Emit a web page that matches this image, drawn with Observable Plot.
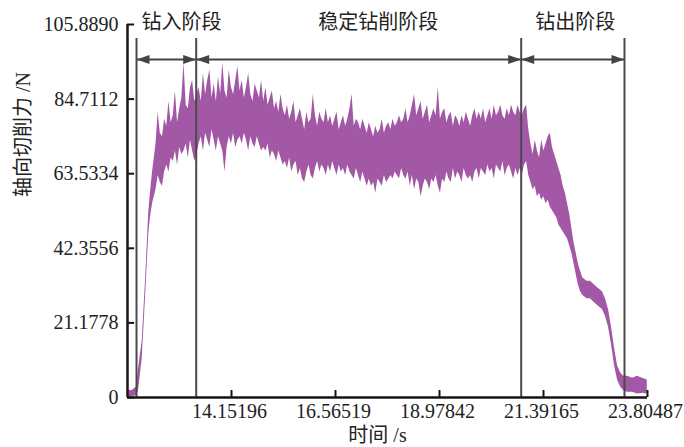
<!DOCTYPE html>
<html><head><meta charset="utf-8">
<script src="https://cdn.jsdelivr.net/npm/d3@7"></script>
<script src="https://cdn.jsdelivr.net/npm/@observablehq/plot@0.6"></script>
<style>body{margin:0;background:#fff}</style>
</head><body><div id="chart"></div>
<script>
// time (s), upper and lower envelope of the axial cutting force (N)
const time = [11.739,11.850,11.948,11.994,12.080,12.160,12.230,12.270,12.320,12.360,
12.40,12.45,12.50,12.55,12.60,12.65,12.70,12.75,12.80,12.85,
12.90,12.95,13.00,13.05,13.10,13.15,13.20,13.25,13.30,13.35,
13.40,13.45,13.50,13.55,13.60,13.65,13.70,13.75,13.80,13.85,
13.90,13.95,14.00,14.05,14.10,14.15,14.20,14.25,14.30,14.35,
14.40,14.45,14.50,14.55,14.60,14.65,14.70,14.75,14.80,14.85,
14.90,14.95,15.00,15.05,15.10,15.15,15.20,15.25,15.30,15.35,
15.40,15.45,15.50,15.55,15.60,15.65,15.70,15.75,15.80,15.85,
15.90,15.95,16.00,16.05,16.10,16.15,16.20,16.25,16.30,16.35,
16.40,16.45,16.50,16.55,16.60,16.65,16.70,16.75,16.80,16.85,
16.90,16.95,17.00,17.05,17.10,17.15,17.20,17.25,17.30,17.35,
17.40,17.45,17.50,17.55,17.60,17.65,17.70,17.75,17.80,17.85,
17.90,17.95,18.00,18.05,18.10,18.15,18.20,18.25,18.30,18.35,
18.40,18.45,18.50,18.55,18.60,18.65,18.70,18.75,18.80,18.85,
18.90,18.95,19.00,19.05,19.10,19.15,19.20,19.25,19.30,19.35,
19.40,19.45,19.50,19.55,19.60,19.65,19.70,19.75,19.80,19.85,
19.90,19.95,20.00,20.05,20.10,20.15,20.20,20.25,20.30,20.35,
20.40,20.45,20.50,20.55,20.60,20.65,20.70,20.75,20.80,20.85,
20.90,20.95,21.00,21.05,
21.10,21.15,21.20,21.25,21.30,21.35,21.40,21.45,21.50,21.55,
21.60,21.65,21.70,21.75,21.80,21.85,21.90,21.95,22.00,22.05,
22.10,22.15,22.20,22.25,22.30,22.35,22.40,22.48,22.57,22.66,
22.76,22.83,22.90,22.97,23.04,23.11,23.18,23.25,23.34,23.46,
23.57,23.69,23.80];
const forceHigh = [2,2,3,8,16,34,52,58,64,68,
72,81,75,74,79,77,84,78,80,87,
78,82,85,95,83,82,88,90,84,86,
88,84,92,86,90,93,85,89,84,91,
86,95,87,85,93,88,86,90,94,87,
90,85,88,92,86,84,89,87,85,90,
84,88,83,85,87,82,84,81,86,82,
80,83,79,81,84,78,80,82,79,76,
81,78,79,86,80,77,81,79,78,82,
78,80,77,79,81,76,78,80,77,79,
82,86,77,79,78,76,79,77,75,78,
76,74,77,75,76,79,75,77,78,76,
79,77,78,80,78,79,82,78,80,83,
86,80,82,84,79,81,83,78,80,82,
80,88,79,81,82,78,80,81,77,80,
79,77,80,78,81,79,77,80,82,79,
81,79,82,78,80,82,79,83,80,81,
83,80,79,82,80,83,81,80,83,81,
80,82,83,76,
72,69,73,70,68,73,70,72,74,75,
71,69,67,65,63,60,58,55,52,48,
44,41,38,36,34,33.5,33,33,32,31,
30,28,25,20,14,9,7,6,6,5.5,
6,5.5,5];
const forceLow = [0,0.3,0.5,2,11,29,46,51,55,57,
59,63,61,60,64,66,64,68,67,70,
66,71,69,70,72,68,73,70,67,69,
72,74,70,75,73,71,76,73,70,74,
72,70,64,71,74,72,75,71,73,74,
72,75,73,70,74,72,71,74,72,70,
71,70,72,68,70,69,67,70,68,66,
67,65,68,64,66,67,63,65,62,61,
64,66,63,62,65,67,64,66,65,63,
66,64,67,65,63,66,64,65,63,66,
64,63,62,65,63,61,64,62,60,62,
60,61,58,62,61,60,63,61,62,63,
62,64,63,62,65,63,62,64,60,63,
59,62,61,57,60,62,61,59,62,61,
63,60,58,62,61,64,62,61,65,62,
64,63,61,65,63,62,63,61,64,65,
62,65,64,63,66,64,65,62,66,65,
64,67,63,65,66,64,62,65,63,65,
63,66,67,63,
61,59,60,57,58,56,57,55,56,54,
53,52,51,49,48,47,46,45,43,41,
38,35,32,30,29,28.5,28,28,27,26,
25,23,20,15,9,5,3,2,1.5,1.5,
1,1.2,1];

const xTicks = [14.15196, 16.56519, 18.97842, 21.39165, 23.80487];
const xTickLabels = ["14.15196", "16.56519", "18.97842", "21.39165", "23.80487"];
const yTicks = [0, 21.1778, 42.3556, 63.5334, 84.7112, 105.8890];
const yTickLabels = ["0", "21.1778", "42.3556", "63.5334", "84.7112", "105.8890"];
const phaseBounds = [11.948, 13.333, 20.874, 23.271];
const phaseNames = ["钻入阶段", "稳定钻削阶段", "钻出阶段"];
const phaseLabelTime = [12.99, 17.56, 22.13];

const X0 = 11.73873, X1 = 23.80487, YMAX = 105.889;
const rows = time.map((t, i) => ({t, hi: forceHigh[i], lo: forceLow[i]}));
const segs = phaseBounds.slice(0, -1).map((a, i) => ({a, b: phaseBounds[i + 1]}));
const ARROW_Y = 95.95;
const triRight = {draw(c) { c.moveTo(0, 0); c.lineTo(-13, -4.5); c.lineTo(-13, 4.5); c.closePath(); }};
const triLeft = {draw(c) { c.moveTo(0, 0); c.lineTo(13, -4.5); c.lineTo(13, 4.5); c.closePath(); }};
const font = "'Liberation Serif', 'Noto Sans CJK SC', serif";

const chart = Plot.plot({
  width: 684, height: 447,
  marginLeft: 127, marginRight: 37, marginTop: 24, marginBottom: 50,
  x: {domain: [X0, X1], axis: null},
  y: {domain: [0, YMAX], axis: null},
  style: {fontFamily: font, fontSize: "20px", color: "#222", background: "#fff", overflow: "visible"},
  marks: [
    Plot.areaY(rows, {x: "t", y1: "lo", y2: "hi", fill: "#a358a5", curve: "linear"}),
    Plot.ruleX(phaseBounds, {y1: 0, y2: 101.9, stroke: "#4a4a4a", strokeWidth: 2}),
    Plot.ruleY(segs, {x1: "a", x2: "b", y: ARROW_Y, stroke: "#444", strokeWidth: 2}),
    Plot.dot(phaseBounds.slice(1), {x: d => d, y: ARROW_Y, symbol: triRight, r: 4, fill: "#444", stroke: null}),
    Plot.dot(phaseBounds.slice(0, -1), {x: d => d, y: ARROW_Y, symbol: triLeft, r: 4, fill: "#444", stroke: null}),
    Plot.text(phaseNames, {x: (d, i) => phaseLabelTime[i], y: YMAX, dy: -2, text: d => d, fontSize: 20, fill: "#222"}),
    Plot.ruleY([0], {stroke: "#1a1410", strokeWidth: 2.5}),
    Plot.ruleX([X0], {stroke: "#1a1410", strokeWidth: 2.5}),
    Plot.ruleY(yTicks, {x1: X0, x2: X0 + 0.165, stroke: "#1a1410", strokeWidth: 2}),
    Plot.ruleX(xTicks, {y1: 0, y2: 2.0, stroke: "#1a1410", strokeWidth: 2}),
    Plot.text(yTicks, {x: X0, y: d => d, text: (d, i) => yTickLabels[i], textAnchor: "end", dx: -9, fontSize: 20, fill: "#222"}),
    Plot.text(xTicks, {x: d => d, y: 0, text: (d, i) => xTickLabels[i], dy: 14, dx: -2, fontSize: 20, fill: "#222"}),
    Plot.text(["时间 /s"], {frameAnchor: "bottom", dx: -10, dy: 44, fontSize: 20, fill: "#222"}),
    Plot.text(["轴向切削力 /N"], {frameAnchor: "left", rotate: -90, dx: -104, dy: -14, fontSize: 20, fill: "#222"})
  ]
});
document.getElementById("chart").appendChild(chart);
</script>
</body></html>
